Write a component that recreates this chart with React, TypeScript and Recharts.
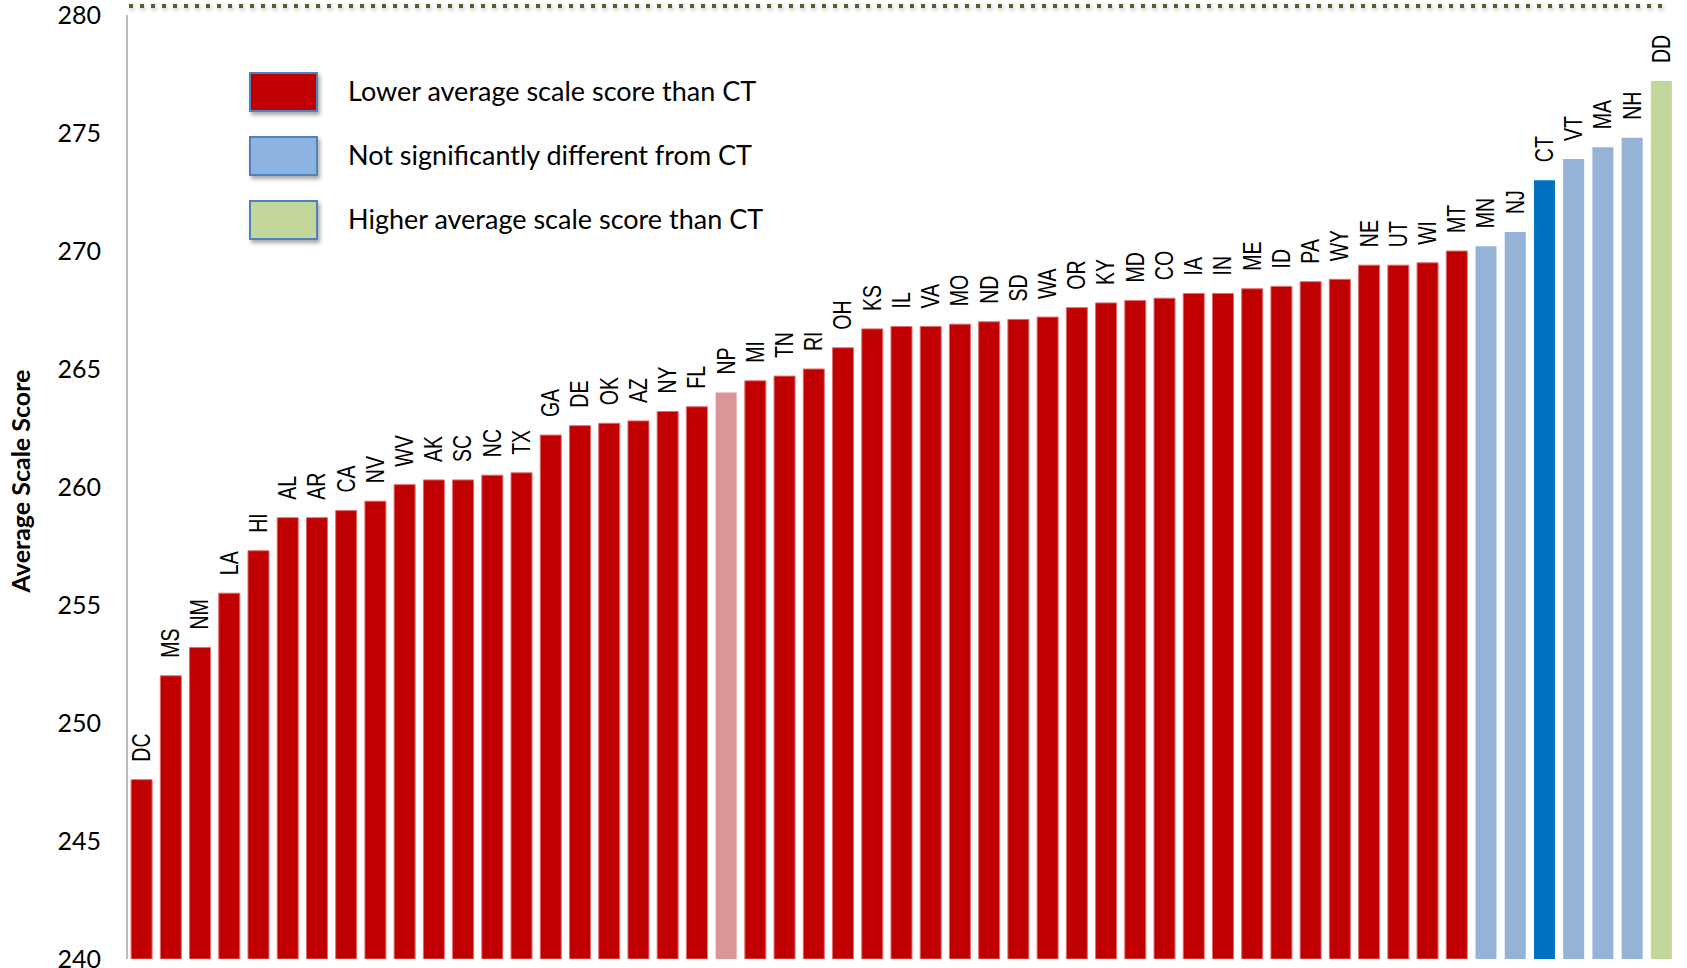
import { BarChart, Bar, Cell, XAxis, YAxis, LabelList, Legend, ReferenceLine } from 'recharts'

const states = [
  'DC', 'MS', 'NM', 'LA', 'HI', 'AL', 'AR', 'CA', 'NV', 'WV', 'AK', 'SC', 'NC', 'TX',
  'GA', 'DE', 'OK', 'AZ', 'NY', 'FL', 'NP', 'MI', 'TN', 'RI', 'OH', 'KS', 'IL', 'VA',
  'MO', 'ND', 'SD', 'WA', 'OR', 'KY', 'MD', 'CO', 'IA', 'IN', 'ME', 'ID', 'PA', 'WY',
  'NE', 'UT', 'WI', 'MT', 'MN', 'NJ', 'CT', 'VT', 'MA', 'NH', 'DD',
]

const scores = [
  247.6, 252.0, 253.2, 255.5, 257.3, 258.7, 258.7, 259.0, 259.4, 260.1, 260.3, 260.3, 260.5, 260.6,
  262.2, 262.6, 262.7, 262.8, 263.2, 263.4, 264.0, 264.5, 264.7, 265.0, 265.9, 266.7, 266.8, 266.8,
  266.9, 267.0, 267.1, 267.2, 267.6, 267.8, 267.9, 268.0, 268.2, 268.2, 268.4, 268.5, 268.7, 268.8,
  269.4, 269.4, 269.5, 270.0, 270.2, 270.8, 273.0, 273.9, 274.4, 274.8, 277.2,
]

// lower / np / same / ct / higher
const groups = [
  'lower', 'lower', 'lower', 'lower', 'lower', 'lower', 'lower', 'lower', 'lower', 'lower', 'lower', 'lower', 'lower', 'lower',
  'lower', 'lower', 'lower', 'lower', 'lower', 'lower', 'np', 'lower', 'lower', 'lower', 'lower', 'lower', 'lower', 'lower',
  'lower', 'lower', 'lower', 'lower', 'lower', 'lower', 'lower', 'lower', 'lower', 'lower', 'lower', 'lower', 'lower', 'lower',
  'lower', 'lower', 'lower', 'lower', 'same', 'same', 'ct', 'same', 'same', 'same', 'higher',
]

const yTicks = [240, 245, 250, 255, 260, 265, 270, 275, 280]

const legendLabels = [
  'Lower average scale score than CT',
  'Not significantly different from CT',
  'Higher average scale score than CT',
]
const legendColors = ['#C00000', '#8DB3E2', '#C3D69B']

const fills: Record<string, string> = {
  lower: '#C00000',
  np: '#D99694',
  same: '#95B3D7',
  ct: '#0070C0',
  higher: '#C3D69B',
}

const data = states.map((state, i) => ({ state, score: scores[i], group: groups[i] }))

function BarLabel(props: any) {
  const { x, y, width, value } = props
  const cx = Number(x) + Number(width) / 2
  return (
    <text
      transform={`translate(${cx}, ${Number(y) - 18}) rotate(-90) scale(1, 1.3)`}
      textAnchor="start"
      dominantBaseline="central"
      fontFamily="'Liberation Sans', Arial, sans-serif"
      fontSize={19.5}
      fill="#000"
    >
      {value}
    </text>
  )
}

function LegendBox() {
  return (
    <div style={{ fontFamily: 'Lato, sans-serif', fontSize: 27, color: '#000' }}>
      {legendLabels.map((label, i) => (
        <div key={label} style={{ display: 'flex', alignItems: 'center', height: 64 }}>
          <div
            style={{
              width: 65,
              height: 36,
              background: legendColors[i],
              border: '2px solid #4F81BD',
              boxShadow: '2px 3px 4px rgba(0,0,0,0.35)',
              marginRight: 30,
              flexShrink: 0,
            }}
          />
          <span style={{ whiteSpace: 'nowrap', position: 'relative', top: -2 }}>{label}</span>
        </div>
      ))}
    </div>
  )
}

export default function App() {
  return (
    <div style={{ position: 'absolute', left: 0, top: 0 }}>
      <BarChart
        width={1687}
        height={968}
        data={data}
        margin={{ top: 15, right: 11, bottom: 9, left: 0 }}
        barCategoryGap="14%"
      >
        <XAxis dataKey="state" hide />
        <YAxis
          width={127}
          domain={[240, 280]}
          ticks={yTicks}
          interval={0}
          allowDataOverflow
          tickLine={false}
          tickSize={0}
          tickMargin={26}
          axisLine={{ stroke: '#A6A6A6', strokeWidth: 1.5 }}
          tick={{ fontFamily: 'Lato, sans-serif', fontSize: 25, fill: '#000' }}
          label={{
            content: ({ viewBox }: any) => (
              <text
                x={20}
                y={viewBox.y + viewBox.height / 2 - 6}
                transform={`rotate(-90, 20, ${viewBox.y + viewBox.height / 2 - 6})`}
                textAnchor="middle"
                dominantBaseline="central"
                fontFamily="Lato, sans-serif"
                fontWeight="bold"
                fontSize={25}
                fill="#000"
              >
                Average Scale Score
              </text>
            ),
          }}
        />
        <ReferenceLine
          y={280}
          ifOverflow="visible"
          shape={(p: any) => (
            <line
              x1={p.x1 + 2}
              x2={p.x2 - 10}
              y1={p.y1 - 9}
              y2={p.y2 - 9}
              stroke="#4F6228"
              strokeWidth={4}
              strokeDasharray="4 7"
              style={{ filter: 'drop-shadow(1px 2px 2px rgba(0,0,0,0.3))' }}
            />
          )}
        />
        <Legend
          layout="horizontal"
          align="center"
          verticalAlign="middle"
          wrapperStyle={{ left: 249, top: 60, width: 560, height: 200 }}
          content={() => <LegendBox />}
        />
        <Bar dataKey="score" isAnimationActive={false}>
          {data.map((d, i) => (
            <Cell
              key={i}
              fill={fills[d.group]}
              stroke={d.group === 'lower' ? '#E06C6C' : 'none'}
              strokeWidth={1}
            />
          ))}
          <LabelList dataKey="state" content={BarLabel} />
        </Bar>
      </BarChart>
    </div>
  )
}
